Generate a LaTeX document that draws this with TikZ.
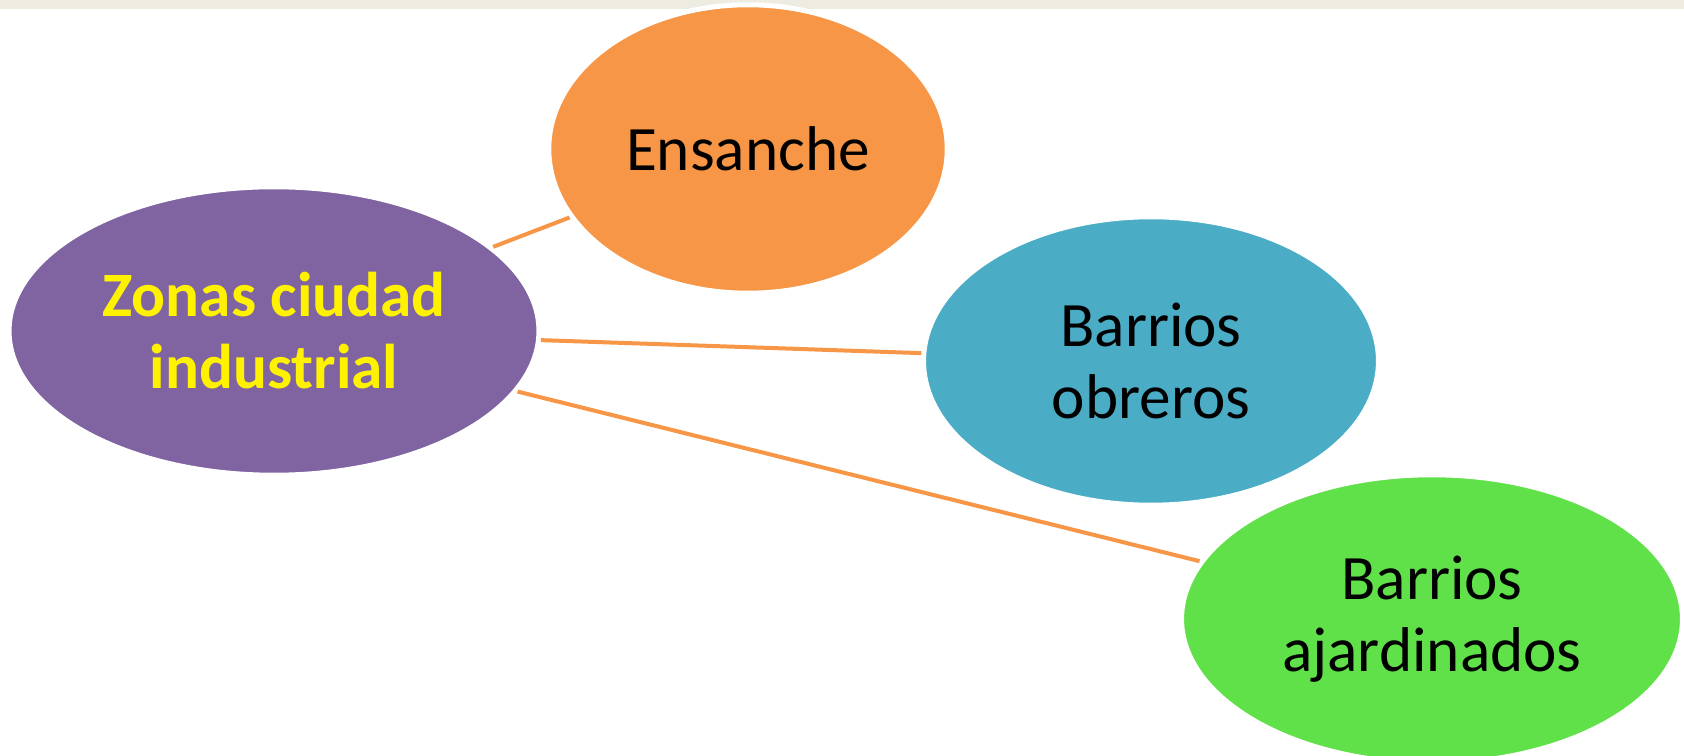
\documentclass[tikz,border=0pt]{standalone}
\usepackage{fontspec}
\setmainfont{Carlito}
\definecolor{zonapurple}{RGB}{128,100,162}
\definecolor{zonaorange}{RGB}{247,150,70}
\definecolor{zonablue}{RGB}{75,172,198}
\definecolor{zonagreen}{RGB}{96,225,74}
\definecolor{topband}{RGB}{238,236,225}
\usetikzlibrary{shapes.geometric}

\begin{document}
\begin{tikzpicture}[
  x=0.02cm, y=-0.02cm,
  zona/.style={ellipse, draw=white, line width=0.1cm, align=center, inner sep=0pt, minimum height=5.77cm, font=\fontsize{36}{41}\selectfont},
  enlace/.style={draw=zonaorange, line width=0.08cm}
]
  \useasboundingbox (0,0) rectangle (1684,756);
  \fill[topband] (0,0) rectangle (1684,9);

  \node[zona, fill=zonapurple, minimum width=10.6cm, text=yellow, font=\fontsize{36}{41}\selectfont\bfseries] (ciudad) at (274,331) {Zonas ciudad\\industrial};
  \node[zona, fill=zonaorange, minimum width=7.97cm] (ensanche) at (748,149) {Ensanche};
  \node[zona, fill=zonablue, minimum width=9.1cm] (obreros) at (1151,361) {Barrios\\obreros};
  \node[zona, fill=zonagreen, minimum width=10.02cm] (ajardinados) at (1432,619) {Barrios\\ajardinados};

  \draw[enlace] (ciudad) -- (ensanche);
  \draw[enlace] (ciudad) -- (obreros);
  \draw[enlace] (ciudad) -- (ajardinados);
\end{tikzpicture}
\end{document}
